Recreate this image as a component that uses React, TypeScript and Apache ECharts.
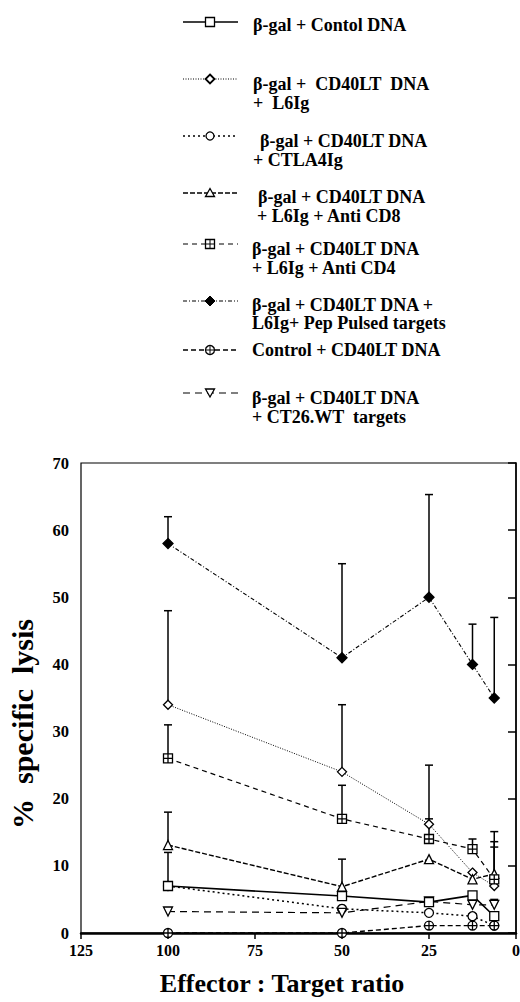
import React, { useEffect, useRef } from "react";
import * as echarts from "echarts";

// ---- data ----
const ratios = [100, 50, 25, 12.5, 6.25];

const controlDNA = [7, 5.5, 4.6, 5.6, 2.5];
const controlDNAErr = [12, null, null, null, null];

const l6Ig = [34, 24, 16.2, 9, 7];
const l6IgErr = [48, 34, 25, null, 12.8];

const ctla4Ig = [7, 3.6, 3, 2.5, 1.1];
const ctla4IgErr = [null, null, null, null, null];

const antiCD8 = [13.1, 6.9, 11, 8, 8.8];
const antiCD8Err = [18, 11, null, null, 13.6];

const antiCD4 = [26, 17, 14, 12.5, 8];
const antiCD4Err = [31, 22, 17, 14, 15.1];

const pepPulsed = [58, 41, 50, 40, 35];
const pepPulsedErr = [62, 55, 65.3, 46, 47];

const controlCD40 = [0, 0, 1.1, 1.1, 1.1];
const controlCD40Err = [null, null, null, null, null];

const ct26 = [3.2, 3, 4.7, 4.2, 4.2];
const ct26Err = [null, null, null, null, 5];

const xTickValues = [125, 100, 75, 50, 25, 0];
const yTickValues = [0, 10, 20, 30, 40, 50, 60, 70];

const seriesNames = [
  "β-gal + Contol DNA",
  "β-gal + CD40LT DNA + L6Ig",
  "β-gal + CD40LT DNA + CTLA4Ig",
  "β-gal + CD40LT DNA + L6Ig + Anti CD8",
  "β-gal + CD40LT DNA + L6Ig + Anti CD4",
  "β-gal + CD40LT DNA + L6Ig+ Pep Pulsed targets",
  "Control + CD40LT DNA",
  "β-gal + CD40LT DNA + CT26.WT targets",
];

const legendLines: string[][] = [
  ["β-gal + Contol DNA"],
  ["β-gal +  CD40LT  DNA", "+  L6Ig"],
  ["β-gal + CD40LT DNA", "+ CTLA4Ig"],
  ["β-gal + CD40LT DNA", "+ L6Ig + Anti CD8"],
  ["β-gal + CD40LT DNA", "+ L6Ig + Anti CD4"],
  ["β-gal + CD40LT DNA +", "L6Ig+ Pep Pulsed targets"],
  ["Control + CD40LT DNA"],
  ["β-gal + CD40LT DNA", "+ CT26.WT  targets"],
];

const values = [controlDNA, l6Ig, ctla4Ig, antiCD8, antiCD4, pepPulsed, controlCD40, ct26];
const errors = [controlDNAErr, l6IgErr, ctla4IgErr, antiCD8Err, antiCD4Err, pepPulsedErr, controlCD40Err, ct26Err];

// ---- styles ----
const SQ_PLUS = "path://M0,0 L10,0 L10,10 L0,10 Z M5,0 L5,10 M0,5 L10,5";
const CIRC_PLUS = "path://M5,0 A5,5 0 1,1 5,10 A5,5 0 1,1 5,0 Z M5,0 L5,10 M0,5 L10,5";
const DOWN_TRI = "path://M0,0 L10,0 L5,9 Z";

const styles: any[] = [
  { symbol: "rect", size: 9, dash: "solid", width: 1.6, fill: "#fff" },
  { symbol: "diamond", size: 9, dash: [1, 1.5], width: 1, fill: "#fff" },
  { symbol: "circle", size: 9, dash: [2, 3], width: 1.5, fill: "#fff" },
  { symbol: "triangle", size: 9, dash: [5, 2], width: 1.4, fill: "#fff" },
  { symbol: SQ_PLUS, size: 9, dash: [5, 4], width: 1.2, fill: "#fff" },
  { symbol: "diamond", size: 10, dash: [4, 2, 1, 2], width: 1.1, fill: "#000" },
  { symbol: CIRC_PLUS, size: 9, dash: [5, 3], width: 1.4, fill: "#fff" },
  { symbol: DOWN_TRI, size: 9, dash: [7, 5], width: 1.2, fill: "#fff" },
];

const FONT = "'Liberation Serif', 'DejaVu Serif', serif";

const legendYs = [22, 79, 136, 193, 244, 301, 350, 393];
const legendTextYs = [[25], [84, 103], [141, 160], [197, 216], [249, 268], [305, 323], [350], [398, 417]];
const legendTextXs = [[253], [253, 253], [260, 253], [258, 257], [252, 252], [252, 252], [252], [252, 252]];

function legendSymbol(i: number, cx: number, cy: number): any[] {
  const st = { fill: "#fff", stroke: "#000", lineWidth: 1.3 };
  const r = 4.5;
  switch (i) {
    case 0:
      return [{ type: "rect", shape: { x: cx - r, y: cy - r, width: 2 * r, height: 2 * r }, style: st }];
    case 1:
      return [{ type: "polygon", shape: { points: [[cx, cy - r], [cx + r, cy], [cx, cy + r], [cx - r, cy]] }, style: { ...st, lineWidth: 1.8 } }];
    case 2:
      return [{ type: "circle", shape: { cx, cy, r: 4 }, style: st }];
    case 3:
      return [{ type: "polygon", shape: { points: [[cx, cy - r], [cx + r, cy + 3.5], [cx - r, cy + 3.5]] }, style: st }];
    case 4:
      return [
        { type: "rect", shape: { x: cx - r, y: cy - r, width: 2 * r, height: 2 * r }, style: st },
        { type: "line", shape: { x1: cx, y1: cy - r, x2: cx, y2: cy + r }, style: { stroke: "#000", lineWidth: 1 } },
        { type: "line", shape: { x1: cx - r, y1: cy, x2: cx + r, y2: cy }, style: { stroke: "#000", lineWidth: 1 } },
      ];
    case 5:
      return [{ type: "polygon", shape: { points: [[cx, cy - 5], [cx + 5, cy], [cx, cy + 5], [cx - 5, cy]] }, style: { fill: "#000", stroke: "#000" } }];
    case 6:
      return [
        { type: "circle", shape: { cx, cy, r: 4.5 }, style: st },
        { type: "line", shape: { x1: cx, y1: cy - r, x2: cx, y2: cy + r }, style: { stroke: "#000", lineWidth: 1 } },
        { type: "line", shape: { x1: cx - r, y1: cy, x2: cx + r, y2: cy }, style: { stroke: "#000", lineWidth: 1 } },
      ];
    default:
      return [{ type: "polygon", shape: { points: [[cx - r, cy - 4], [cx + r, cy - 4], [cx, cy + 4]] }, style: st }];
  }
}

export default function App() {
  const ref = useRef<HTMLDivElement>(null);
  useEffect(() => {
    document.body.style.margin = "0";
    if (!ref.current) return;
    const chart = echarts.init(ref.current, null, { renderer: "svg" });

    const graphics: any[] = [];
    legendLines.forEach((lines, i) => {
      const y = legendYs[i];
      graphics.push({
        type: "line",
        shape: { x1: 183, y1: y, x2: 238, y2: y },
        style: { stroke: "#000", lineWidth: styles[i].width, lineDash: styles[i].dash === "solid" ? null : styles[i].dash },
      });
      legendSymbol(i, 210, y).forEach((g) => graphics.push(g));
      lines.forEach((t, j) => {
        graphics.push({
          type: "text",
          x: legendTextXs[i][j],
          y: legendTextYs[i][j],
          style: { text: t, font: `bold 18px ${FONT}`, fill: "#000", verticalAlign: "middle", align: "left" },
        });
      });
    });
    graphics.push({
      type: "text",
      x: 282,
      y: 983,
      style: { text: "Effector : Target ratio", font: `bold 26px ${FONT}`, fill: "#000", align: "center", verticalAlign: "middle" },
    });
    graphics.push({
      type: "text",
      x: 22,
      y: 724,
      rotation: Math.PI / 2,
      style: { text: "%  specific  lysis", font: `bold 30px ${FONT}`, fill: "#000", align: "center", verticalAlign: "middle" },
    });

    const lineSeries = values.map((vals, i) => ({
      type: "line",
      name: seriesNames[i],
      data: ratios.map((r, k) => [r, vals[k]]),
      symbol: styles[i].symbol,
      symbolSize: styles[i].size,
      showAllSymbol: true,
      lineStyle: { color: "#000", width: styles[i].width, type: styles[i].dash },
      itemStyle: { color: styles[i].fill, borderColor: "#000", borderWidth: 1.3 },
      emphasis: { disabled: true },
      z: 3 + (i === 0 ? 1 : 0),
    }));

    const errData: any[] = [];
    values.forEach((vals, i) => {
      errors[i].forEach((e, k) => {
        if (e != null) errData.push([ratios[k], vals[k], e]);
      });
    });

    const errSeries = {
      type: "custom",
      name: "error",
      data: errData,
      encode: { x: 0, y: [1, 2] },
      z: 2,
      renderItem: (params: any, api: any) => {
        const x = api.value(0);
        const lo = api.value(1);
        const hi = api.value(2);
        const p0 = api.coord([x, lo]);
        const p1 = api.coord([x, hi]);
        return {
          type: "group",
          children: [
            { type: "line", shape: { x1: p0[0], y1: p0[1], x2: p1[0], y2: p1[1] }, style: { stroke: "#000", lineWidth: 1.5 } },
            { type: "line", shape: { x1: p1[0] - 4, y1: p1[1], x2: p1[0] + 4, y2: p1[1] }, style: { stroke: "#000", lineWidth: 1.5 } },
          ],
        };
      },
    };

    chart.setOption({
      animation: false,
      backgroundColor: "#fff",
      grid: {
        left: 81, right: 4, top: 463, bottom: 69,
        show: true, borderColor: "#000", borderWidth: 1.2,
        containLabel: false, outerBoundsMode: "none",
      },
      xAxis: {
        type: "value",
        inverse: true,
        min: 0,
        max: 125,
        interval: 25,
        axisLine: { show: true, onZero: false, lineStyle: { color: "#000", width: 2.5 } },
        axisTick: { show: true, inside: false, length: 6, lineStyle: { color: "#000", width: 1.5 } },
        axisLabel: {
          color: "#000",
          fontFamily: FONT,
          fontWeight: "bold",
          fontSize: 16,
          margin: 9,
          formatter: (v: number) => (xTickValues.includes(v) ? String(v) : ""),
        },
        splitLine: { show: false },
      },
      yAxis: {
        type: "value",
        min: 0,
        max: 70,
        interval: 10,
        axisLine: { show: true, lineStyle: { color: "#000", width: 1.5 } },
        axisTick: { show: true, inside: false, length: 8, lineStyle: { color: "#000", width: 1.5 } },
        axisLabel: {
          color: "#000",
          fontFamily: FONT,
          fontWeight: "bold",
          fontSize: 16.5,
          margin: 12,
          formatter: (v: number) => (yTickValues.includes(v) ? String(v) : ""),
        },
        splitLine: { show: false },
      },
      tooltip: { show: false },
      graphic: graphics,
      series: [errSeries, ...lineSeries],
    });

    return () => chart.dispose();
  }, []);

  return <div ref={ref} style={{ width: 520, height: 1002, background: "#fff" }} />;
}
